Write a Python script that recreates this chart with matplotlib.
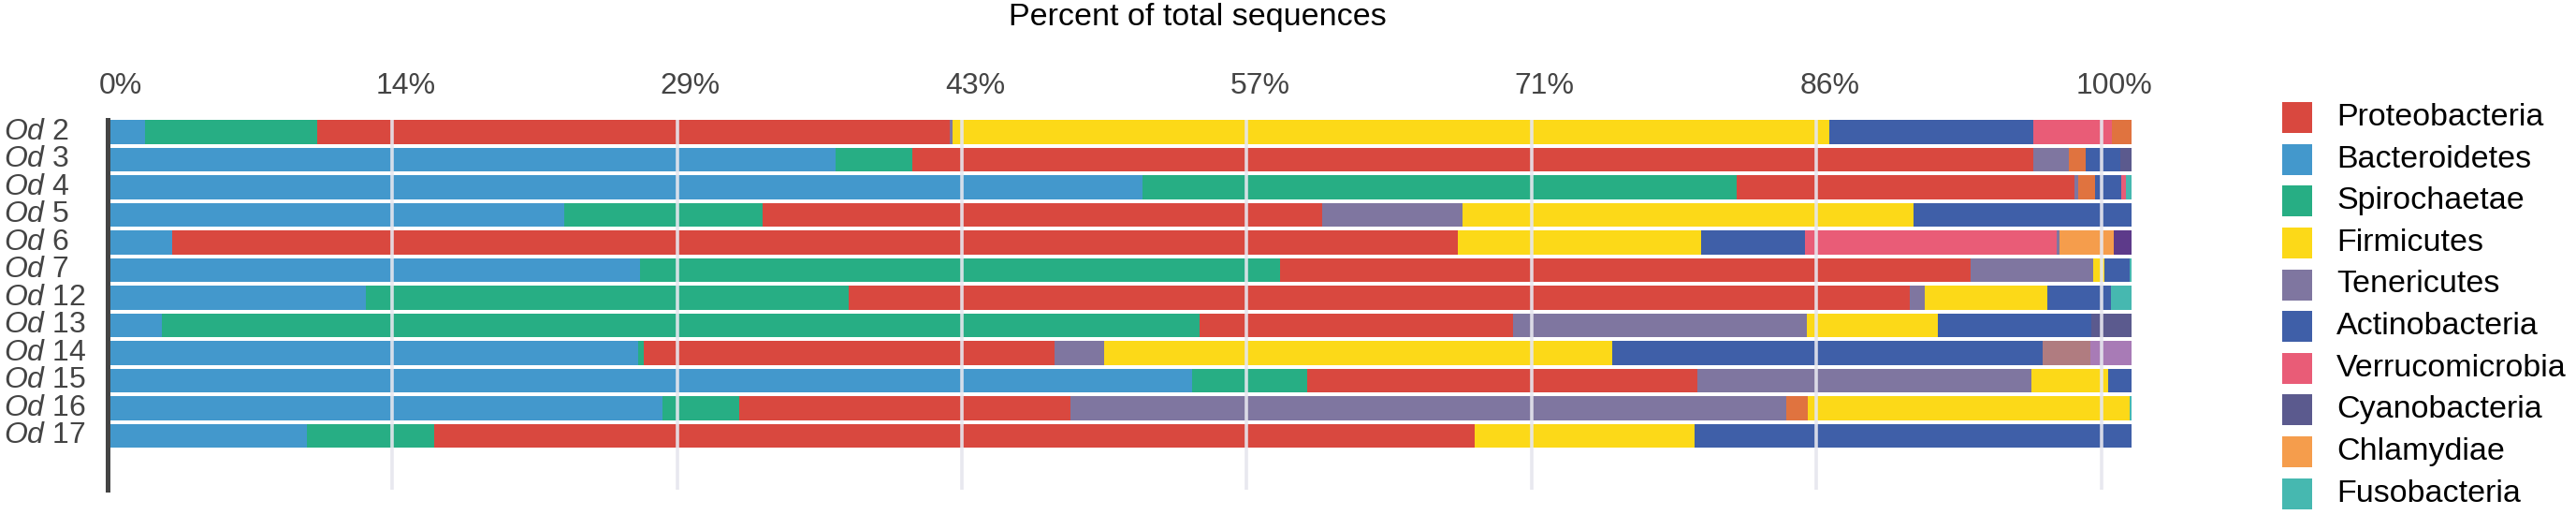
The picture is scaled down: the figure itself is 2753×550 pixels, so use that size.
import numpy as np
import matplotlib
matplotlib.use('Agg')
import matplotlib.pyplot as plt
from matplotlib.patches import Rectangle
from matplotlib.transforms import ScaledTranslation, blended_transform_factory

plt.rcParams['font.family'] = ['Liberation Sans', 'DejaVu Sans']
plt.rcParams['mathtext.fontset'] = 'custom'
plt.rcParams['mathtext.it'] = 'Liberation Sans:italic'
plt.rcParams['mathtext.rm'] = 'Liberation Sans'

# samples, top to bottom
samples = ['2', '3', '4', '5', '6', '7', '12', '13', '14', '15', '16', '17']

# phyla in the legend
phyla = ['Proteobacteria', 'Bacteroidetes', 'Spirochaetae', 'Firmicutes', 'Tenericutes',
         'Actinobacteria', 'Verrucomicrobia', 'Cyanobacteria', 'Chlamydiae', 'Fusobacteria']
phyla_colors = ['#d9483f', '#4398cc', '#27ae84', '#fcd918', '#7f76a0',
                '#3f5fa8', '#e95c77', '#5b5a8e', '#f59d4c', '#46b8b0']
# minor phyla not listed in the legend
minor = ['other_a', 'other_b', 'other_c', 'other_d']
minor_colors = ['#e0733f', '#b07c80', '#a87bb6', '#5d3a8a']

# stacking order and percent of each segment, per sample
stack_taxa = [
    ['Bacteroidetes', 'Spirochaetae', 'Proteobacteria', 'Tenericutes', 'Firmicutes', 'Actinobacteria', 'Verrucomicrobia', 'other_a'],
    ['Bacteroidetes', 'Spirochaetae', 'Proteobacteria', 'Tenericutes', 'other_a', 'Actinobacteria', 'Cyanobacteria'],
    ['Bacteroidetes', 'Spirochaetae', 'Proteobacteria', 'Tenericutes', 'other_a', 'Actinobacteria', 'Verrucomicrobia', 'Fusobacteria'],
    ['Bacteroidetes', 'Spirochaetae', 'Proteobacteria', 'Tenericutes', 'Firmicutes', 'Actinobacteria'],
    ['Bacteroidetes', 'Proteobacteria', 'Firmicutes', 'Actinobacteria', 'Verrucomicrobia', 'Tenericutes', 'Chlamydiae', 'other_d'],
    ['Bacteroidetes', 'Spirochaetae', 'Proteobacteria', 'Tenericutes', 'Firmicutes', 'Actinobacteria', 'Fusobacteria'],
    ['Bacteroidetes', 'Spirochaetae', 'Proteobacteria', 'Tenericutes', 'Firmicutes', 'Actinobacteria', 'Fusobacteria'],
    ['Bacteroidetes', 'Spirochaetae', 'Proteobacteria', 'Tenericutes', 'Firmicutes', 'Actinobacteria', 'Cyanobacteria'],
    ['Bacteroidetes', 'Spirochaetae', 'Proteobacteria', 'Tenericutes', 'Firmicutes', 'Actinobacteria', 'other_b', 'other_c'],
    ['Bacteroidetes', 'Spirochaetae', 'Proteobacteria', 'Tenericutes', 'Firmicutes', 'Actinobacteria'],
    ['Bacteroidetes', 'Spirochaetae', 'Proteobacteria', 'Tenericutes', 'other_a', 'Firmicutes', 'Fusobacteria'],
    ['Bacteroidetes', 'Spirochaetae', 'Proteobacteria', 'Firmicutes', 'Actinobacteria'],
]
stack_pct = [
    [1.85, 8.5, 31.25, 0.15, 43.3, 10.1, 3.9, 0.95],
    [35.97, 3.79, 55.39, 1.76, 0.83, 1.71, 0.55],
    [51.11, 29.37, 16.68, 0.2, 0.84, 1.29, 0.23, 0.28],
    [22.55, 9.81, 27.65, 6.95, 22.25, 10.79],
    [3.21, 63.49, 12.05, 5.12, 12.45, 0.13, 2.68, 0.87],
    [26.31, 31.62, 34.12, 6.04, 0.55, 1.27, 0.09],
    [12.78, 23.82, 52.44, 0.72, 6.08, 3.13, 1.03],
    [2.69, 51.25, 15.48, 14.53, 6.50, 7.57, 1.98],
    [26.2, 0.27, 20.31, 2.48, 25.08, 21.28, 2.36, 2.03],
    [53.57, 5.70, 19.26, 16.54, 3.78, 1.16],
    [27.42, 3.78, 16.39, 35.35, 1.07, 15.88, 0.11],
    [9.85, 6.27, 51.43, 10.88, 21.56],
]

tick_labels = ['0%', '14%', '29%', '43%', '57%', '71%', '86%', '100%']

color_of = dict(zip(phyla + minor, phyla_colors + minor_colors))

W, H = 2753, 550
fig = plt.figure(figsize=(W / 100, H / 100), dpi=100)
ax = fig.add_axes([115 / W, (H - 523) / H, (2278 - 115) / W, 395 / H])

bar_h = 0.871
for i in range(len(samples)):
    left = 0
    for taxon, v in zip(stack_taxa[i], stack_pct[i]):
        ax.barh(i, v, left=left, height=bar_h, color=color_of[taxon], linewidth=0, zorder=2)
        left += v

ax.set_xlim(0, 100)
ax.set_ylim(-bar_h / 2 + 395 / 29.5, -bar_h / 2)

# axis scale: the 100% gridline sits a little before the end of the bars
ticks = np.arange(8) * 100 / 7 * 0.985
for t in ticks:
    ax.axvline(t, color='#e6e6ee', lw=2.6, alpha=0.9, zorder=3)

ax.xaxis.tick_top()
ax.set_xticks(ticks)
ax.set_xticklabels(tick_labels, fontsize=23, color='#444444')
ax.tick_params(axis='x', length=0, pad=15)
for lab in ax.get_xticklabels():
    lab.set_transform(lab.get_transform() + ScaledTranslation(0.14, 0, fig.dpi_scale_trans))
ax.set_yticks([])

for s in ['top', 'right', 'bottom']:
    ax.spines[s].set_visible(False)
ax.spines['left'].set_color('#444444')
ax.spines['left'].set_linewidth(3.6)
ax.spines['left'].set_zorder(4)

# sample labels, left aligned at the figure edge
tr = blended_transform_factory(fig.transFigure, ax.transData)
for i, s in enumerate(samples):
    fig.text(4 / W, i, r'$\mathit{Od}$ ' + s, transform=tr, ha='left', va='center',
             fontsize=23, color='#444444')

fig.text(1280 / W, 1 - 19 / H, 'Percent of total sequences', ha='center', va='center',
         fontsize=24.5, color='black')

# legend
for i, (name, c) in enumerate(zip(phyla, phyla_colors)):
    yc = 125.6 + i * 44.6
    fig.add_artist(Rectangle((2439 / W, 1 - (yc + 16.5) / H), 32 / W, 33 / H,
                             transform=fig.transFigure, color=c, linewidth=0))
    fig.text(2497 / W, 1 - yc / H, name, ha='left', va='center', fontsize=24.5, color='black')

plt.savefig('out.png', dpi=100)
